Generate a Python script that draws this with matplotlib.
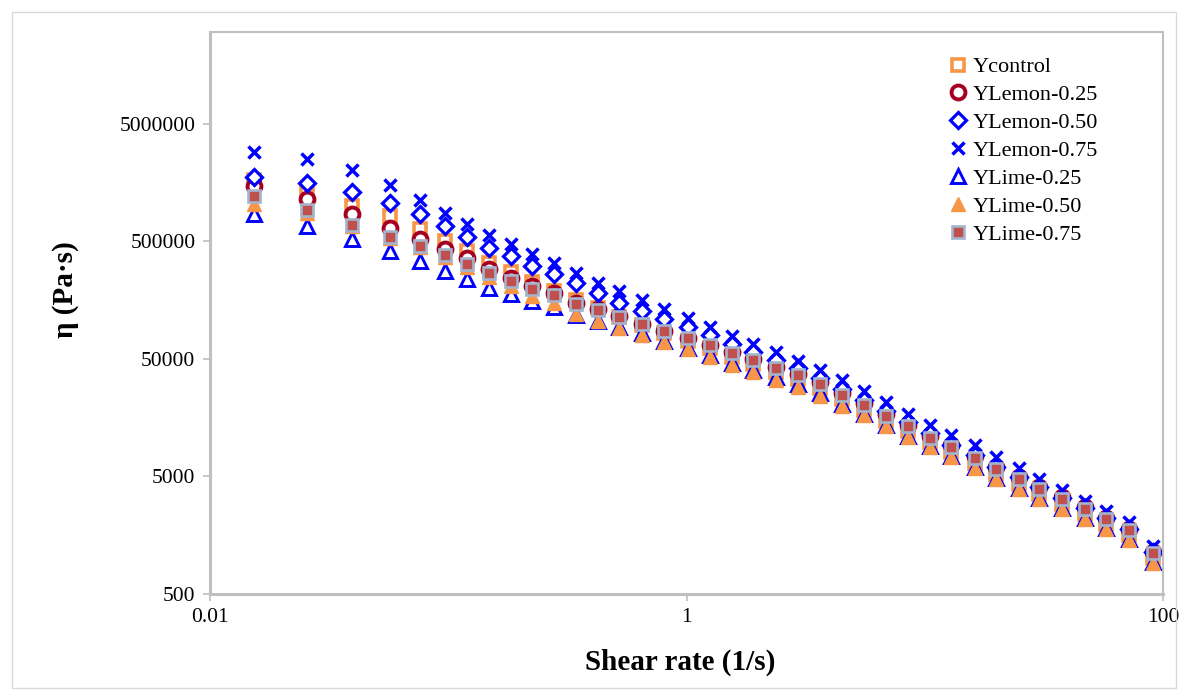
import matplotlib
matplotlib.use("Agg")
import matplotlib.pyplot as plt
from matplotlib.patches import Rectangle

plt.rcParams['font.family'] = ['Liberation Serif', 'DejaVu Serif', 'DejaVu Sans']

shear_rate = [0.0153, 0.0256, 0.0396, 0.0567, 0.0759, 0.0967, 0.1197, 0.148, 0.183, 0.225,
              0.278, 0.344, 0.426, 0.522, 0.653, 0.808, 1.01, 1.25, 1.55, 1.91,
              2.37, 2.93, 3.63, 4.49, 5.56, 6.89, 8.53, 10.5, 12.9, 16.2,
              20.0, 24.8, 30.3, 37.6, 47.0, 57.5, 71.9, 90.8]

ycontrol = [1.64e6, 1.28e6, 9.91e5, 8.15e5, 6.32e5, 5.00e5, 4.11e5, 3.26e5, 2.73e5, 2.24e5,
            1.88e5, 1.58e5, 1.35e5, 1.135e5, 9.72e4, 8.30e4, 7.11e4, 6.21e4, 5.20e4, 4.54e4,
            3.88e4, 3.38e4, 2.84e4, 2.29e4, 1.85e4, 1.49e4, 1.205e4, 9.73e3, 8.00e3, 6.46e3,
            5.20e3, 4.29e3, 3.52e3, 2.90e3, 2.38e3, 1.96e3, 1.58e3, 1.01e3]

ylemon_025 = [1.46e6, 1.135e6, 8.47e5, 6.44e5, 5.20e5, 4.28e5, 3.59e5, 2.90e5, 2.43e5, 2.07e5,
              1.81e5, 1.49e5, 1.32e5, 1.16e5, 9.9e4, 8.63e4, 7.53e4, 6.57e4, 5.73e4, 5.00e4,
              4.28e4, 3.72e4, 3.19e4, 2.58e4, 2.12e4, 1.71e4, 1.38e4, 1.11e4, 9.16e3, 7.40e3,
              5.96e3, 4.91e3, 4.04e3, 3.32e3, 2.73e3, 2.20e3, 1.77e3, 1.13e3]

ylemon_050 = [1.74e6, 1.55e6, 1.30e6, 1.05e6, 8.47e5, 6.70e5, 5.41e5, 4.37e5, 3.73e5, 3.07e5,
              2.62e5, 2.20e5, 1.81e5, 1.49e5, 1.28e5, 1.09e5, 9.33e4, 8.00e4, 6.70e4, 5.74e4,
              4.91e4, 4.19e4, 3.45e4, 2.79e4, 2.24e4, 1.81e4, 1.44e4, 1.16e4, 9.33e3, 7.53e3,
              5.96e3, 4.91e3, 4.04e3, 3.25e3, 2.67e3, 2.20e3, 1.77e3, 1.13e3]

ylemon_075 = [2.84e6, 2.48e6, 2.00e6, 1.49e6, 1.11e6, 8.63e5, 6.97e5, 5.62e5, 4.72e5, 3.88e5,
              3.25e5, 2.68e5, 2.20e5, 1.88e5, 1.58e5, 1.32e5, 1.11e5, 9.35e4, 7.83e4, 6.71e4,
              5.74e4, 4.81e4, 4.04e4, 3.32e4, 2.68e4, 2.16e4, 1.71e4, 1.38e4, 1.135e4, 9.16e3,
              7.24e3, 5.85e3, 4.72e3, 3.80e3, 3.07e3, 2.53e3, 2.04e3, 1.27e3]

ylime_025 = [8.45e5, 6.70e5, 5.20e5, 4.11e5, 3.39e5, 2.78e5, 2.38e5, 2.00e5, 1.78e5, 1.55e5,
             1.38e5, 1.18e5, 1.05e5, 9.33e4, 8.32e4, 7.10e4, 6.19e4, 5.41e4, 4.62e4, 4.04e4,
             3.52e4, 3.07e4, 2.58e4, 2.08e4, 1.71e4, 1.38e4, 1.11e4, 8.99e3, 7.40e3, 5.97e3,
             4.81e3, 3.96e3, 3.26e3, 2.68e3, 2.20e3, 1.82e3, 1.46e3, 933]

ylime_050 = [1.03e6, 8.65e5, 6.71e5, 5.31e5, 4.46e5, 3.66e5, 3.01e5, 2.48e5, 2.08e5, 1.71e5,
             1.49e5, 1.20e5, 1.05e5, 9.16e4, 8.00e4, 6.97e4, 6.08e4, 5.20e4, 4.45e4, 3.88e4,
             3.32e4, 2.89e4, 2.43e4, 2.00e4, 1.67e4, 1.35e4, 1.09e4, 8.81e3, 7.24e3, 5.85e3,
             4.71e3, 3.88e3, 3.19e3, 2.62e3, 2.16e3, 1.78e3, 1.43e3, 914]

ylime_075 = [1.20e6, 9.16e5, 6.84e5, 5.41e5, 4.54e5, 3.80e5, 3.19e5, 2.68e5, 2.29e5, 1.96e5,
             1.74e5, 1.46e5, 1.30e5, 1.135e5, 9.9e4, 8.63e4, 7.53e4, 6.57e4, 5.62e4, 4.91e4,
             4.20e4, 3.66e4, 3.07e4, 2.48e4, 2.04e4, 1.64e4, 1.33e4, 1.07e4, 8.81e3, 7.11e3,
             5.73e3, 4.72e3, 3.88e3, 3.19e3, 2.63e3, 2.16e3, 1.74e3, 1.11e3]

labels = ["Ycontrol", "YLemon-0.25", "YLemon-0.50", "YLemon-0.75",
          "YLime-0.25", "YLime-0.50", "YLime-0.75"]
x_ticks = [0.01, 1, 100]
x_ticklabels = ["0.01", "1", "100"]
y_ticks = [500, 5000, 50000, 500000, 5000000]
y_ticklabels = ["500", "5000", "50000", "500000", "5000000"]

orange = '#F79646'
darkred = '#A50021'
blue = '#0000FF'
redfill = '#C0504D'
steel = '#A3B4CF'

fig = plt.figure(figsize=(11.86, 6.90), dpi=100)
fig.patches.append(Rectangle((12/1186, 2/690), 1164/1186, 676/690, transform=fig.transFigure,
                             fill=False, edgecolor='#D9D9D9', linewidth=1.0))
ax = fig.add_axes([210/1186, 1-594/690, 953/1186, 562/690])

series = [
    (ycontrol, dict(marker='s', ms=9, mfc='white', mec=orange, mew=2.6)),
    (ylemon_025, dict(marker='o', ms=10, mfc='white', mec=darkred, mew=2.8)),
    (ylemon_050, dict(marker='D', ms=8, mfc='white', mec=blue, mew=2.3)),
    (ylemon_075, dict(marker='x', ms=8.5, mec=blue, mew=2.5)),
    (ylime_025, dict(marker='^', ms=10.5, mfc='white', mec=blue, mew=2.1)),
    (ylime_050, dict(marker='^', ms=10.5, mfc=orange, mec=orange, mew=1.0)),
    (ylime_075, dict(marker='s', ms=9, mfc=redfill, mec=steel, mew=1.9)),
]
for (vals, style), lab in zip(series, labels):
    ax.plot(shear_rate, vals, linestyle='none', label=lab, **style)

ax.set_xscale('log')
ax.set_yscale('log')
ax.set_xlim(0.01, 100)
ax.set_ylim(500, 3.0e7)
ax.set_xticks(x_ticks)
ax.set_xticklabels(x_ticklabels)
ax.set_yticks(y_ticks)
ax.set_yticklabels(y_ticklabels)
ax.minorticks_off()
ax.tick_params(axis='both', which='major', direction='out', length=5, width=1.2,
               color='#BFBFBF', labelsize=15.5, pad=5)
ax.tick_params(axis='y', pad=5.5)

for side in ['left', 'bottom']:
    ax.spines[side].set_color('#BFBFBF')
    ax.spines[side].set_linewidth(2.2)
for side in ['top', 'right']:
    ax.spines[side].set_color('#BFBFBF')
    ax.spines[side].set_linewidth(1.5)

ax.set_xlabel("Shear rate (1/s)", fontsize=21, fontweight='bold')
ax.set_ylabel("η (Pa·s)", fontsize=21, fontweight='bold')
ax.xaxis.set_label_coords(0.493, -0.098)
ax.yaxis.set_label_coords(-0.137, 0.541)

ax.legend(loc='upper left', bbox_to_anchor=(0.7744, 0.956), frameon=False,
          fontsize=16, handlelength=0.9, handletextpad=0.2, labelspacing=0.33,
          borderpad=0, borderaxespad=0, numpoints=1)

fig.savefig("out.png", dpi=100)
